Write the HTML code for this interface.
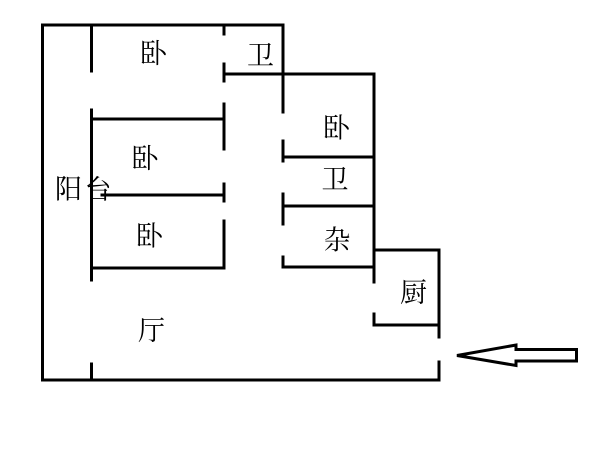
<!DOCTYPE html>
<html><head><meta charset="utf-8"><style>
html,body{margin:0;padding:0;background:#fff;width:601px;height:460px;overflow:hidden}
svg{display:block}
text{font-family:"Liberation Serif","Noto Serif CJK SC",serif;font-size:27px;fill:#000;text-anchor:middle;dominant-baseline:central}
</style></head><body>
<svg width="601" height="460" viewBox="0 0 601 460" xmlns="http://www.w3.org/2000/svg">
<g stroke="#000" stroke-width="3" fill="none" stroke-linecap="square">
<line x1="42.5" y1="25" x2="42.5" y2="380"/>
<line x1="42.5" y1="25" x2="283" y2="25"/>
<line x1="42.5" y1="380" x2="439" y2="380"/>
<line x1="91.5" y1="25" x2="91.5" y2="71"/>
<line x1="91.5" y1="110" x2="91.5" y2="280"/>
<line x1="91.5" y1="364" x2="91.5" y2="380"/>
<line x1="224" y1="25" x2="224" y2="34"/>
<line x1="224" y1="64" x2="224" y2="81"/>
<line x1="224" y1="104" x2="224" y2="149"/>
<line x1="224" y1="184" x2="224" y2="201"/>
<line x1="224" y1="221" x2="224" y2="268"/>
<line x1="224" y1="74" x2="374" y2="74"/>
<line x1="283" y1="25" x2="283" y2="112"/>
<line x1="283" y1="141" x2="283" y2="161"/>
<line x1="283" y1="194" x2="283" y2="224"/>
<line x1="283" y1="257" x2="283" y2="267"/>
<line x1="374" y1="74" x2="374" y2="282"/>
<line x1="374" y1="314" x2="374" y2="325"/>
<line x1="283" y1="157" x2="374" y2="157"/>
<line x1="283" y1="206" x2="374" y2="206"/>
<line x1="283" y1="267" x2="374" y2="267"/>
<line x1="91.5" y1="119" x2="224" y2="119"/>
<line x1="102" y1="195" x2="224" y2="195"/>
<line x1="91.5" y1="268" x2="224" y2="268"/>
<line x1="374" y1="250" x2="439" y2="250"/>
<line x1="439" y1="250" x2="439" y2="337"/>
<line x1="439" y1="362" x2="439" y2="380"/>
<line x1="374" y1="325" x2="439" y2="325"/>
</g>
<polygon points="457,355.5 516,345 516,349.5 576.5,349.5 576.5,361 516,361 516,365.5" fill="#fff" stroke="#000" stroke-width="3" stroke-linejoin="miter"/>
<text x="153.5" y="54">卧</text>
<text x="260.5" y="56">卫</text>
<text x="336.5" y="128.5">卧</text>
<text x="335" y="180">卫</text>
<text x="337" y="240.5">杂</text>
<text x="145" y="159">卧</text>
<text x="68.5" y="189.5">阳</text>
<text x="98" y="190">台</text>
<text x="149.5" y="236.5">卧</text>
<text x="151.5" y="331">厅</text>
<text x="413.5" y="293">厨</text>
</svg>
</body></html>
